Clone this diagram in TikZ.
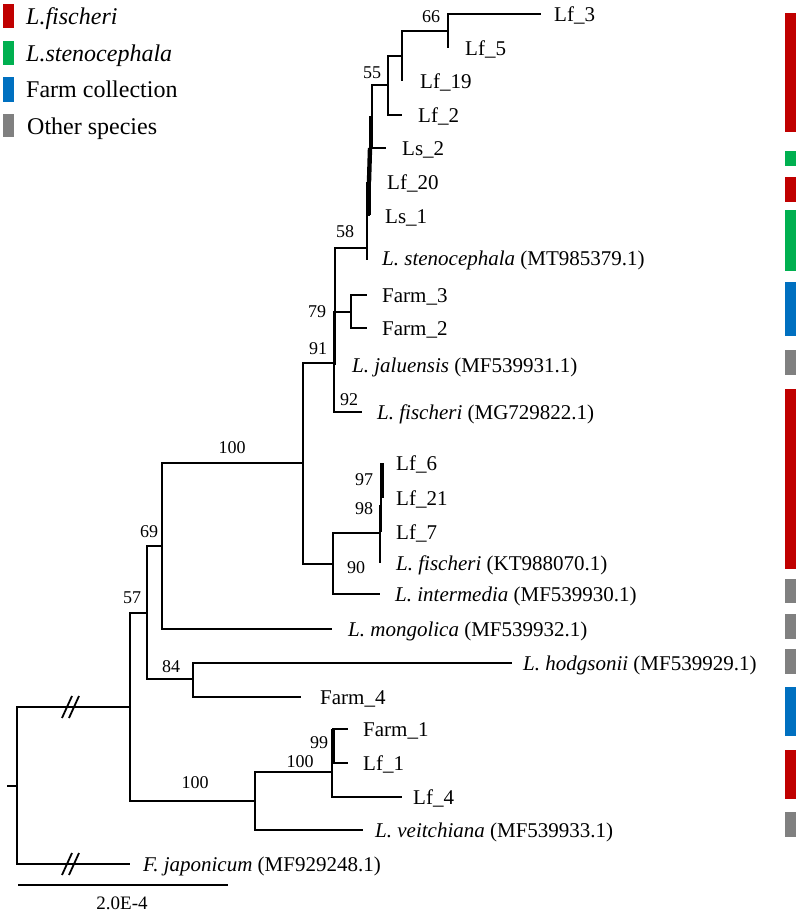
\documentclass[tikz,border=0pt]{standalone}
\usepackage{fontspec}
\setmainfont{Liberation Serif}
\definecolor{cred}{HTML}{C00000}
\definecolor{cgreen}{HTML}{00B050}
\definecolor{cblue}{HTML}{0070C0}
\definecolor{cgray}{HTML}{808080}
\begin{document}
\begin{tikzpicture}[x=1pt,y=-1pt,
  br/.style={line width=2.9pt},
  brthick/.style={line width=4.4pt},
  leaf/.style={anchor=base west,inner sep=0pt,font=\fontsize{21}{25}\selectfont},
  boot/.style={anchor=center,inner sep=0pt,font=\fontsize{18}{21}\selectfont},
  legtext/.style={anchor=base west,inner sep=0pt,font=\fontsize{24}{28}\selectfont}]
\useasboundingbox (0,0) rectangle (800,913);
% ---------- tips ----------
\coordinate (t3) at (541,14);
\coordinate (t5) at (448,48);
\coordinate (t19) at (402,81);
\coordinate (t2) at (402,115);
\coordinate (tLs2) at (386,148);
\coordinate (tLf20) at (369,182);
\coordinate (tLs1) at (368,215);
\coordinate (tSten) at (367,260);
\coordinate (tF3) at (367,295);
\coordinate (tF2) at (367,328);
\coordinate (tJal) at (335,365);
\coordinate (tMG) at (362,412);
\coordinate (tLf6) at (382,463);
\coordinate (tLf21) at (382,498);
\coordinate (tLf7) at (381,532);
\coordinate (tKT) at (380,563);
\coordinate (tInt) at (380,594);
\coordinate (tMong) at (332,629);
\coordinate (tHodg) at (512,663);
\coordinate (tF4) at (301,697);
\coordinate (tF1) at (348,729);
\coordinate (tLf1) at (348,763);
\coordinate (tLf4) at (402,797);
\coordinate (tVeit) at (363,830);
\coordinate (tFjap) at (130,864);
% ---------- internal nodes ----------
\coordinate (n66) at (448,31);
\coordinate (nA) at (402,56);
\coordinate (n55) at (388,85);
\coordinate (nP1) at (372,117);
\coordinate (nP2) at (370,150);
\coordinate (nP3) at (369,183);
\coordinate (n58) at (367,248);
\coordinate (nF) at (351,312);
\coordinate (n79) at (335,312);
\coordinate (n91) at (334,363);
\coordinate (n100u) at (303,463);
\coordinate (n97) at (382,480);
\coordinate (n98) at (381,506);
\coordinate (nK) at (380,533);
\coordinate (n90) at (333,564);
\coordinate (n69) at (162,546);
\coordinate (n84) at (193,679);
\coordinate (n57) at (147,613);
\coordinate (n99) at (333,746);
\coordinate (n100r) at (332,772);
\coordinate (n100l) at (255,801);
\coordinate (nIn) at (130,707);
\coordinate (root) at (17,786);
\coordinate (stub) at (7,786);
% ---------- branches ----------
\draw[br] (n66) |- (t3);
\draw[br] (n66) |- (t5);
\draw[br] (nA) |- (n66);
\draw[br] (nA) |- (t19);
\draw[br] (n55) |- (nA);
\draw[br] (n55) |- (t2);
\draw[br] (nP1) |- (n55);
\draw[br] (nP1) |- (tLs2);
\draw[br] (nP2) |- (nP1);
\draw[br] (nP2) |- (tLf20);
\draw[br] (nP3) |- (nP2);
\draw[br] (nP3) |- (tLs1);
\draw[br] (n58) |- (nP3);
\draw[br] (n58) |- (tSten);
\draw[br] (nF) |- (tF3);
\draw[br] (nF) |- (tF2);
\draw[br] (n79) |- (n58);
\draw[br] (n79) -- (nF);
\draw[br] (n79) |- (tJal);
\draw[br] (n91) |- (n79);
\draw[br] (n91) |- (tMG);
\draw[br] (n100u) |- (n91);
\draw[br] (n100u) |- (n90);
\draw[br] (n97) |- (tLf6);
\draw[br] (n97) |- (tLf21);
\draw[br] (n98) |- (n97);
\draw[br] (n98) |- (tLf7);
\draw[br] (nK) |- (n98);
\draw[br] (nK) |- (tKT);
\draw[br] (n90) |- (nK);
\draw[br] (n90) |- (tInt);
\draw[br] (n69) |- (n100u);
\draw[br] (n69) |- (tMong);
\draw[br] (n84) |- (tHodg);
\draw[br] (n84) |- (tF4);
\draw[br] (n57) |- (n69);
\draw[br] (n57) |- (n84);
\draw[br] (n99) |- (tF1);
\draw[br] (n99) |- (tLf1);
\draw[br] (n100r) |- (n99);
\draw[br] (n100r) |- (tLf4);
\draw[br] (n100l) |- (n100r);
\draw[br] (n100l) |- (tVeit);
\draw[br] (nIn) |- (n57);
\draw[br] (nIn) |- (n100l);
\draw[br] (root) |- (nIn);
\draw[br] (root) |- (tFjap);
\draw[br] (stub) -- (root);
% thicker short vertical stretches (near-zero branches)
\draw[brthick] (nP2 |- tLs2) -- (tLf20);
\draw[brthick] (nP3 |- tLf20) -- (nP3 |- tLs1);
\draw[brthick] (tLf6) -- (tLf21);
\draw[brthick] (n99 |- tF1) -- (n99 |- tLf1);
% break marks
\draw[line width=1.8pt] (62,718) -- (72,696) (69,718) -- (79,696);
\draw[line width=1.8pt] (62,875) -- (72,853) (69,875) -- (79,853);
% ---------- bootstrap labels ----------
\node[boot] (b66) at (431,17) {66};
\node[boot] (b55) at (372,73) {55};
\node[boot] (b58) at (345,232) {58};
\node[boot] (b79) at (317,312) {79};
\node[boot] (b91) at (318,349) {91};
\node[boot] (b92) at (349,400) {92};
\node[boot] (b100u) at (232,448) {100};
\node[boot] (b97) at (364,480) {97};
\node[boot] (b98) at (364,509) {98};
\node[boot] (b90) at (356,568) {90};
\node[boot] (b69) at (149,532) {69};
\node[boot] (b57) at (132,598) {57};
\node[boot] (b84) at (171,667) {84};
\node[boot] (b100l) at (195,783) {100};
\node[boot] (b100r) at (300,762) {100};
\node[boot] (b99) at (319,743) {99};
% ---------- leaf labels ----------
\node[leaf] (l3) at (554,21) {Lf\_3};
\node[leaf] (l5) at (465,55) {Lf\_5};
\node[leaf] (l19) at (420,88) {Lf\_19};
\node[leaf] (l2) at (418,122) {Lf\_2};
\node[leaf] (lLs2) at (402,155) {Ls\_2};
\node[leaf] (lLf20) at (387,189) {Lf\_20};
\node[leaf] (lLs1) at (385,223) {Ls\_1};
\node[leaf] (lSten) at (382,265) {\textit{L. stenocephala} (MT985379.1)};
\node[leaf] (lF3) at (382,302) {Farm\_3};
\node[leaf] (lF2) at (382,335) {Farm\_2};
\node[leaf] (lJal) at (352,372) {\textit{L. jaluensis} (MF539931.1)};
\node[leaf] (lMG) at (377,419) {\textit{L. fischeri} (MG729822.1)};
\node[leaf] (lLf6) at (396,470) {Lf\_6};
\node[leaf] (lLf21) at (396,505) {Lf\_21};
\node[leaf] (lLf7) at (396,539) {Lf\_7};
\node[leaf] (lKT) at (396,570) {\textit{L. fischeri} (KT988070.1)};
\node[leaf] (lInt) at (395,601) {\textit{L. intermedia} (MF539930.1)};
\node[leaf] (lMong) at (348,636) {\textit{L. mongolica} (MF539932.1)};
\node[leaf] (lHodg) at (523,670) {\textit{L. hodgsonii} (MF539929.1)};
\node[leaf] (lF4) at (320,704) {Farm\_4};
\node[leaf] (lF1) at (363,736) {Farm\_1};
\node[leaf] (lLf1) at (363,770) {Lf\_1};
\node[leaf] (lLf4) at (413,804) {Lf\_4};
\node[leaf] (lVeit) at (375,837) {\textit{L. veitchiana} (MF539933.1)};
\node[leaf] (lFjap) at (143,871) {\textit{F. japonicum} (MF929248.1)};
% ---------- scale bar ----------
\coordinate (sbL) at (18,885);
\coordinate (sbR) at (228,885);
\draw[line width=1.8pt] (sbL) -- (sbR);
\node[boot,font=\fontsize{19}{22}\selectfont] (sbt) at (122,903) {2.0E-4};
% ---------- legend ----------
\fill[cred] (3,4) rectangle (14,28);
\fill[cgreen] (3,41) rectangle (14,65);
\fill[cblue] (3,77) rectangle (14,102);
\fill[cgray] (3,114) rectangle (14,137);
\node[legtext] (g1) at (26,24) {\textit{L.fischeri}};
\node[legtext] (g2) at (26,61) {\textit{L.stenocephala}};
\node[legtext] (g3) at (26,97) {Farm collection};
\node[legtext] (g4) at (27,134) {Other species};
% ---------- colour bars ----------
\fill[cred] (785,13) rectangle (796,132);
\fill[cgreen] (785,151) rectangle (796,166);
\fill[cred] (785,177) rectangle (796,202);
\fill[cgreen] (785,210) rectangle (796,271);
\fill[cblue] (785,282) rectangle (796,336);
\fill[cgray] (785,350) rectangle (796,375);
\fill[cred] (785,389) rectangle (796,569);
\fill[cgray] (785,579) rectangle (796,603);
\fill[cgray] (785,614) rectangle (796,639);
\fill[cgray] (785,649) rectangle (796,674);
\fill[cblue] (785,687) rectangle (796,736);
\fill[cred] (785,750) rectangle (796,799);
\fill[cgray] (785,812) rectangle (796,837);
\end{tikzpicture}
\end{document}
